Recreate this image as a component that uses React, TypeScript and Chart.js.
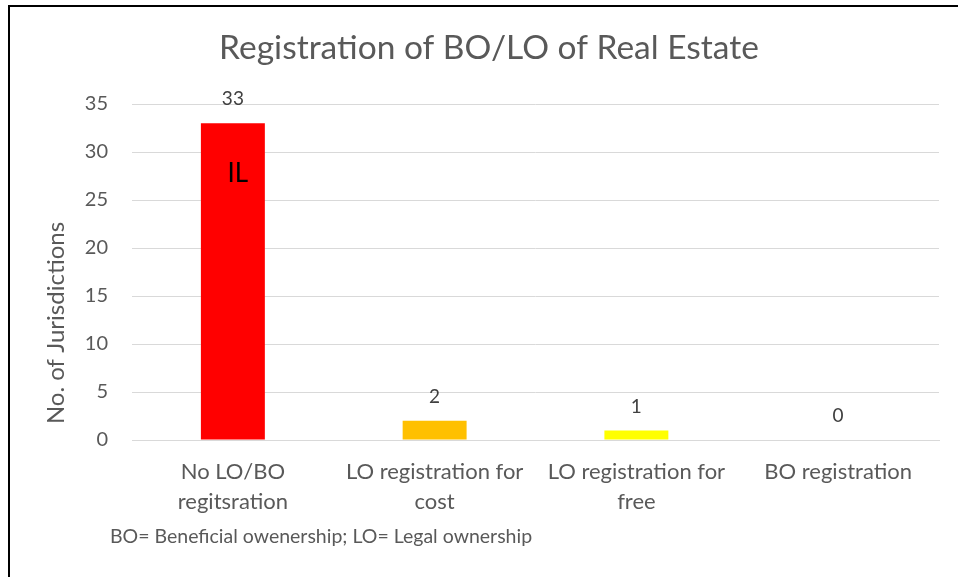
import React, { useEffect, useRef } from "react";
import { Chart, registerables } from "chart.js";

Chart.register(...registerables);

const chartTitle = "Registration of BO/LO of Real Estate";
const yAxisTitle = "No. of Jurisdictions";
const footnote = "BO= Beneficial owenership; LO= Legal ownership";
const categories: string[][] = [
  ["No LO/BO", "regitsration"],
  ["LO registration for", "cost"],
  ["LO registration for", "free"],
  ["BO registration"],
];
const values = [33, 2, 1, 0];
const barColors = ["#FF0000", "#FFC000", "#FFFF00", "#92D050"];
const yTicks = [0, 5, 10, 15, 20, 25, 30, 35];
const annotationText = "IL";
const annotationCategory = 0;
const annotationValue = 27.8;

const FONT = "Lato, 'Open Sans', sans-serif";

export default function App() {
  const ref = useRef<HTMLCanvasElement | null>(null);

  useEffect(() => {
    document.body.style.margin = "0";
    const canvas = ref.current;
    if (!canvas) return;

    const decor = {
      id: "decor",
      beforeDraw(chart: any) {
        const ctx = chart.ctx;
        ctx.save();
        ctx.fillStyle = "#ffffff";
        ctx.fillRect(0, 0, chart.width, chart.height);
        ctx.restore();
      },
      afterDraw(chart: any) {
        const ctx = chart.ctx;
        ctx.save();
        // border
        ctx.fillStyle = "#000000";
        ctx.fillRect(8, 5, 2, chart.height - 5);
        ctx.fillRect(8, 5, chart.width - 8, 2);
        // title
        ctx.fillStyle = "#595959";
        ctx.font = `33.5px ${FONT}`;
        ctx.textAlign = "center";
        ctx.textBaseline = "middle";
        ctx.fillText(chartTitle, 489, 48);
        // y axis title
        ctx.save();
        ctx.translate(56, 323);
        ctx.rotate(-Math.PI / 2);
        ctx.font = `24px ${FONT}`;
        ctx.fillText(yAxisTitle, 0, 0);
        ctx.restore();
        // footnote
        ctx.font = `19.5px ${FONT}`;
        ctx.textAlign = "left";
        ctx.textBaseline = "middle";
        ctx.fillText(footnote, 110, 537);
        // data labels
        const meta = chart.getDatasetMeta(0);
        ctx.fillStyle = "#404040";
        ctx.font = `19px ${FONT}`;
        ctx.textAlign = "center";
        meta.data.forEach((bar: any, i: number) => {
          ctx.fillText(String(values[i]), bar.x, bar.y - 24);
        });
        // annotation
        const xs = chart.scales.x;
        const ys = chart.scales.y;
        ctx.fillStyle = "#000000";
        ctx.font = `26px ${FONT}`;
        ctx.fillText(
          annotationText,
          xs.getPixelForValue(annotationCategory) + 5,
          ys.getPixelForValue(annotationValue)
        );
        ctx.restore();
      },
    };

    const chart = new Chart(canvas, {
      type: "bar",
      data: {
        labels: categories,
        datasets: [
          {
            data: values,
            backgroundColor: barColors,
            borderWidth: 0,
            categoryPercentage: 1,
            barPercentage: 0.317,
          },
        ],
      },
      options: {
        responsive: false,
        animation: false,
        layout: { padding: { top: 104, right: 19, bottom: 0, left: 0 } },
        plugins: {
          legend: { display: false },
          tooltip: { enabled: false },
          title: { display: false },
        },
        scales: {
          x: {
            grid: { display: false, drawTicks: false },
            border: { color: "#d9d9d9", width: 1 },
            ticks: {
              color: "#595959",
              font: { family: FONT, size: 22, lineHeight: "30px" as any },
              padding: 17,
              maxRotation: 0,
              autoSkip: false,
            },
            afterFit(scale: any) {
              scale.height = 137;
            },
          },
          y: {
            min: 0,
            max: 35,
            afterBuildTicks(scale: any) {
              scale.ticks = yTicks.map((v) => ({ value: v }));
            },
            grid: { color: "#d9d9d9", lineWidth: 1, drawTicks: false },
            border: { display: false },
            ticks: {
              color: "#595959",
              font: { family: FONT, size: 20 },
              padding: 24,
            },
            afterFit(scale: any) {
              scale.width = 132;
            },
          },
        },
      },
      plugins: [decor],
    });

    return () => chart.destroy();
  }, []);

  return (
    <div style={{ width: 958, height: 577 }}>
      <canvas ref={ref} width={958} height={577} style={{ display: "block" }} />
    </div>
  );
}
